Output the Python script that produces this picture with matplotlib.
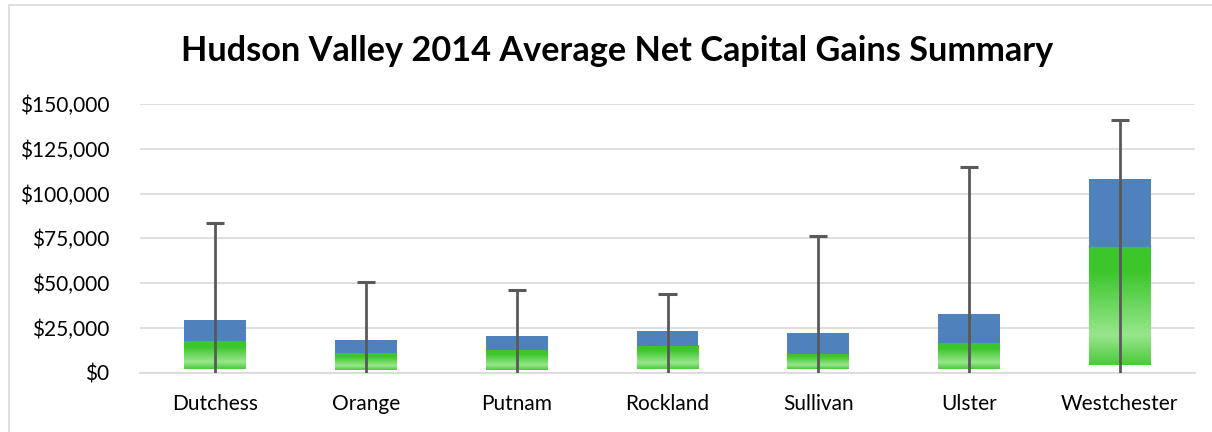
import numpy as np
import matplotlib.pyplot as plt
from matplotlib.colors import LinearSegmentedColormap
from matplotlib.ticker import FuncFormatter
from matplotlib.patches import Rectangle

# box-plot summary built from stacked pieces: q1 -> median (green), median -> q3 (blue)
counties = ['Dutchess', 'Orange', 'Putnam', 'Rockland', 'Sullivan', 'Ulster', 'Westchester']
low = [0, 0, 0, 0, 0, 0, 0]
q1 = [2100, 1700, 1700, 2100, 1900, 2250, 4300]
median = [17500, 10800, 12700, 15100, 10400, 16600, 70100]
q3 = [29400, 18250, 20500, 23300, 22200, 32800, 108000]
high = [83700, 50600, 46200, 43900, 76500, 114800, 140800]

plt.rcParams['font.family'] = ['Lato', 'DejaVu Sans']

fig = plt.figure(figsize=(12.12, 4.32), dpi=100)
ax = fig.add_axes([140/1212, 1 - 372.7/432, (1195-140)/1212, (372.7-104)/432])

# chart border (left and top only visible in the crop)
fig.add_artist(Rectangle((9/1212, -0.05), 1.2, (432-5)/432 + 0.05, transform=fig.transFigure,
                         fill=False, edgecolor='#d9d9d9', linewidth=1.2))

green = LinearSegmentedColormap.from_list('g', [(0, '#4ccb3c'), (0.25, '#98e68c'),
                                                (0.8, '#3cc62c'), (1, '#3cc62c')])
grad = np.linspace(0, 1, 100).reshape(-1, 1)

x = np.arange(len(counties))
w = 0.41
for i in x:
    ax.imshow(grad, extent=[i - w/2, i + w/2, q1[i], median[i]], origin='lower',
              aspect='auto', cmap=green, zorder=2)
    ax.bar(i, q3[i] - median[i], bottom=median[i], width=w, color='#4f81bd', zorder=2)

ax.vlines(x, low, high, color='#595959', linewidth=2, zorder=3)
ax.hlines(high, x - 0.06, x + 0.06, color='#595959', linewidth=2.2, zorder=3)

ax.set_xlim(-0.5, len(counties) - 0.5)
ax.set_ylim(0, 150000)
ax.set_yticks(np.arange(0, 150001, 25000))
ax.yaxis.set_major_formatter(FuncFormatter(lambda v, p: '${:,.0f}'.format(v)))
ax.set_xticks(x)
ax.set_xticklabels(counties)
ax.grid(axis='y', color='#d9d9d9', linewidth=1.2, zorder=0)
ax.set_axisbelow(True)
for s in ['top', 'right', 'left']:
    ax.spines[s].set_visible(False)
ax.spines['bottom'].set_color('#d9d9d9')
ax.spines['bottom'].set_linewidth(1.2)
ax.tick_params(axis='both', length=0, labelsize=15, colors='#000000')
ax.tick_params(axis='x', pad=15)
ax.tick_params(axis='y', pad=22)

fig.text(617/1212, 1 - 51/432, 'Hudson Valley 2014 Average Net Capital Gains Summary',
         ha='center', va='center', fontsize=24.7, fontweight='bold')

fig.savefig('out.png', dpi=100)
